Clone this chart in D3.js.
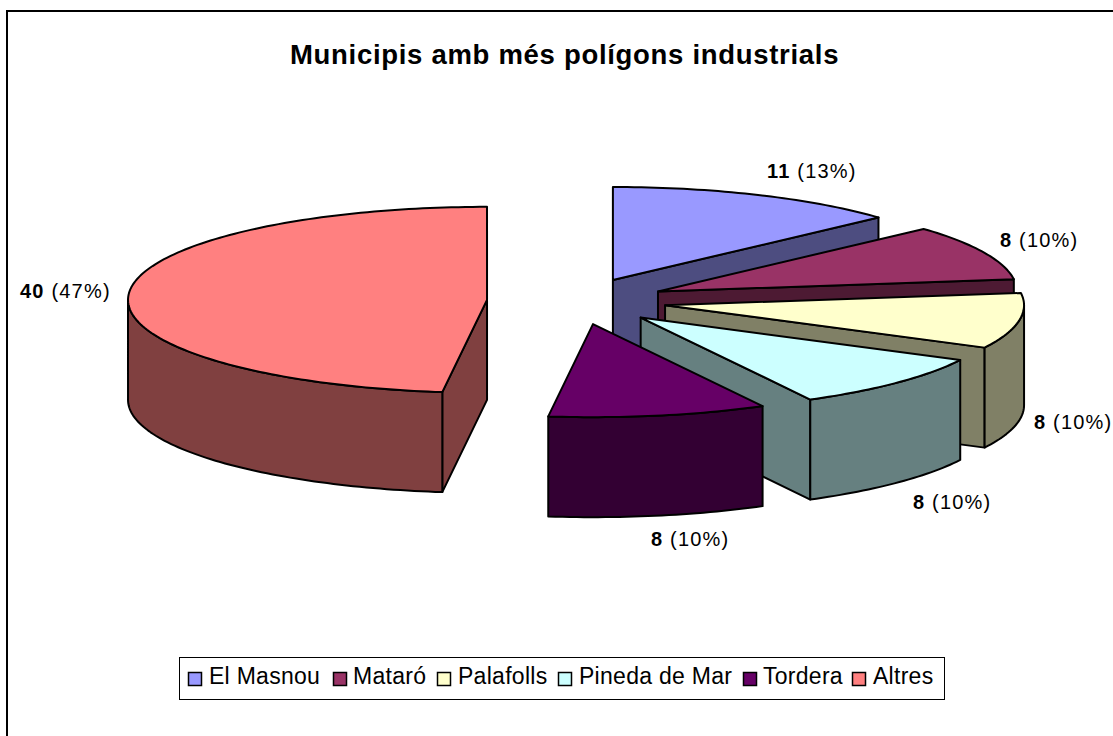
<!DOCTYPE html>
<html><head><meta charset="utf-8">
<script src="https://cdn.jsdelivr.net/npm/d3@7/dist/d3.min.js"></script>
<style>html,body{margin:0;padding:0;background:#fff;overflow:hidden}svg{display:block}text{font-family:"Liberation Sans",Arial,sans-serif;fill:#000}</style>
</head><body><svg id="c" width="1113" height="736"></svg>
<script>
const categories = ["El Masnou","Mataró","Palafolls","Pineda de Mar","Tordera","Altres"];
const values = [11,8,8,8,8.15,39.85];
const percentLabels = ["13%","10%","10%","10%","10%","47%"];
const topColors = ["#9999FF","#993366","#FFFFCC","#CCFFFF","#660066","#FF8080"];
const sideColors = ["#4D4D80","#4D1A33","#808066","#668080","#330033","#804040"];

const W=1113,H=736;
const svg=d3.select("#c");
svg.append("rect").attr("x",7).attr("y",11).attr("width",W+20).attr("height",H+20)
  .attr("fill","#fff").attr("stroke","#000").attr("stroke-width",2).attr("shape-rendering","crispEdges");

svg.append("text").attr("x",290).attr("y",64)
  .attr("font-size",27.5).attr("letter-spacing",0.7).attr("font-weight","bold").text("Municipis amb més polígons industrials");

// 3-D pie geometry
const cx=576.6, cy=301.3, rx=359, ry=93, depth=100, explode=0.25;
const arcs=d3.pie().sort(null).value(d=>d).startAngle(0).endAngle(2*Math.PI)(values);
const sx=d3.scaleLinear().domain([-1,1]).range([-rx,rx]);
const sy=d3.scaleLinear().domain([-1,1]).range([-ry,ry]);
const line=d3.line().x(d=>d[0]).y(d=>d[1]);
function onRim(c,a,dz=0){return [c[0]+sx(Math.sin(a)),c[1]+sy(-Math.cos(a))+dz];}
function rimPts(c,a0,a1,dz=0){
  const n=Math.max(2,Math.ceil((a1-a0)/0.02));
  return d3.range(n+1).map(i=>onRim(c,a0+(a1-a0)*i/n,dz));
}
const g=svg.append("g").attr("stroke","#000").attr("stroke-width",2).attr("stroke-linejoin","round");
const order=[5,0,1,2,3,4];
order.forEach(i=>{
  const d=arcs[i], mid=(d.startAngle+d.endAngle)/2;
  const c=[cx+explode*sx(Math.sin(mid)), cy+explode*sy(-Math.cos(mid))];
  const wall=(a)=>{
    const p=onRim(c,a);
    g.append("path").attr("fill",sideColors[i])
      .attr("d",line([c,p,[p[0],p[1]+depth],[c[0],c[1]+depth]])+"Z");
  };
  if(Math.sin(d.startAngle)<-1e-6) wall(d.startAngle);
  if(Math.sin(d.endAngle)>1e-6) wall(d.endAngle);
  const lo=Math.max(d.startAngle,Math.PI/2), hi=Math.min(d.endAngle,3*Math.PI/2);
  if(hi>lo){
    const pts=rimPts(c,lo,hi).concat(rimPts(c,lo,hi,depth).reverse());
    g.append("path").attr("fill",sideColors[i]).attr("d",line(pts)+"Z");
  }
  g.append("path").attr("fill",topColors[i])
    .attr("d",line([c].concat(rimPts(c,d.startAngle,d.endAngle)))+"Z");
});

// data labels
const labelAnchors=[[767,178],[1000,247],[1034,429],[913,509],[651,546],[20,298]];
values.forEach((v,i)=>{
  const t=svg.append("text").attr("x",labelAnchors[i][0]).attr("y",labelAnchors[i][1])
    .attr("font-size",20).attr("letter-spacing",1.2);
  t.append("tspan").attr("font-weight","bold").text(d3.format(".0f")(v));
  t.append("tspan").text(" ("+percentLabels[i]+")");
});

// legend
svg.append("rect").attr("x",179.5).attr("y",657.5).attr("width",765).attr("height",42)
  .attr("fill","#fff").attr("stroke","#000").attr("stroke-width",1);
const swatchX=[188,333,437,558,743,852], textX=[209,353,458,579,763,873];
categories.forEach((n,i)=>{
  svg.append("rect").attr("x",swatchX[i]+0.5).attr("y",672.5).attr("width",13).attr("height",13)
    .attr("fill",topColors[i]).attr("stroke","#000").attr("stroke-width",1.5);
  svg.append("text").attr("x",textX[i]).attr("y",684).attr("font-size",23).attr("letter-spacing",0.28).text(n);
});
</script></body></html>
